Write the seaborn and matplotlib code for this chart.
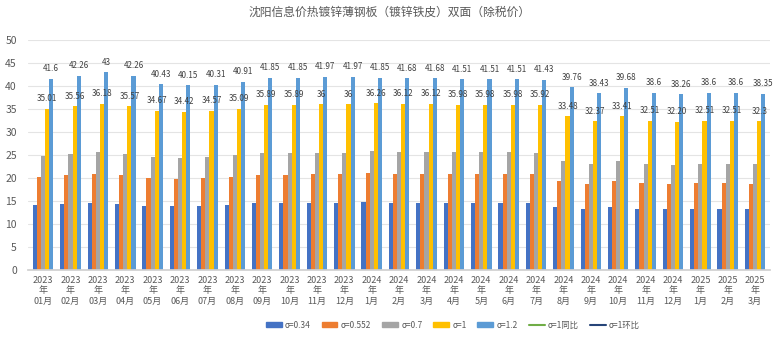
import matplotlib
matplotlib.use("Agg")
import matplotlib.pyplot as plt
from matplotlib.lines import Line2D
import seaborn as sns
import pandas as pd

months = ["2023\n年\n01月", "2023\n年\n02月", "2023\n年\n03月", "2023\n年\n04月", "2023\n年\n05月",
          "2023\n年\n06月", "2023\n年\n07月", "2023\n年\n08月", "2023\n年\n09月", "2023\n年\n10月",
          "2023\n年\n11月", "2023\n年\n12月", "2024\n年\n1月", "2024\n年\n2月", "2024\n年\n3月",
          "2024\n年\n4月", "2024\n年\n5月", "2024\n年\n6月", "2024\n年\n7月", "2024\n年\n8月",
          "2024\n年\n9月", "2024\n年\n10月", "2024\n年\n11月", "2024\n年\n12月", "2025\n年\n1月",
          "2025\n年\n2月", "2025\n年\n3月"]

s034 = [14.2, 14.4, 14.6, 14.4, 14.0, 13.9, 14.0, 14.2, 14.5, 14.5, 14.6, 14.6, 14.7, 14.6,
        14.6, 14.6, 14.6, 14.6, 14.5, 13.7, 13.3, 13.7, 13.3, 13.2, 13.3, 13.3, 13.2]
s0552 = [20.3, 20.6, 20.9, 20.6, 20.0, 19.8, 20.0, 20.3, 20.7, 20.7, 20.8, 20.8, 21.0, 20.9,
         20.9, 20.8, 20.8, 20.8, 20.8, 19.4, 18.8, 19.4, 18.9, 18.7, 18.9, 18.9, 18.8]
s07 = [24.8, 25.2, 25.6, 25.3, 24.5, 24.4, 24.5, 24.9, 25.4, 25.4, 25.5, 25.5, 25.8, 25.7,
       25.7, 25.6, 25.6, 25.6, 25.5, 23.7, 23.0, 23.7, 23.1, 22.9, 23.1, 23.1, 23.0]
s1 = [35.01, 35.56, 36.18, 35.57, 34.67, 34.42, 34.57, 35.09, 35.89, 35.89, 36, 36, 36.26, 36.12,
      36.12, 35.98, 35.98, 35.98, 35.92, 33.48, 32.37, 33.41, 32.51, 32.20, 32.51, 32.51, 32.3]
s1_labels = ["35.01", "35.56", "36.18", "35.57", "34.67", "34.42", "34.57", "35.09", "35.89",
             "35.89", "36", "36", "36.26", "36.12", "36.12", "35.98", "35.98", "35.98", "35.92",
             "33.48", "32.37", "33.41", "32.51", "32.20", "32.51", "32.51", "32.3"]
s12 = [41.6, 42.26, 43, 42.26, 40.43, 40.15, 40.31, 40.91, 41.85, 41.85, 41.97, 41.97, 41.85, 41.68,
       41.68, 41.51, 41.51, 41.51, 41.43, 39.76, 38.43, 39.68, 38.6, 38.26, 38.6, 38.6, 38.35]

series_names = ["σ=0.34", "σ=0.552", "σ=0.7", "σ=1", "σ=1.2"]
line_names = ["σ=1同比", "σ=1环比"]
title = "沈阳信息价热镀锌薄钢板（镀锌铁皮）双面（除税价）"

colors = ["#4472C4", "#ED7D31", "#A5A5A5", "#FFC000", "#5B9BD5"]
line_colors = ["#70AD47", "#264478"]

rows = []
for name, vals in zip(series_names, [s034, s0552, s07, s1, s12]):
    for m, v in zip(months, vals):
        rows.append({"month": m, "series": name, "value": v})
df = pd.DataFrame(rows)

sns.set_theme(style="white")
plt.rcParams['font.family'] = ['Noto Sans CJK SC', 'DejaVu Sans']

fig = plt.figure(figsize=(7.78, 3.40), dpi=100)
ax = fig.add_axes([0.036, 0.206, 0.954, 0.676])

sns.barplot(data=df, x="month", y="value", hue="series", palette=colors,
            order=months, hue_order=series_names, width=0.75, ax=ax,
            saturation=1, legend=False, linewidth=0)

ax.bar_label(ax.containers[3], labels=s1_labels, padding=4, fontsize=5.8, color="#404040")
ax.bar_label(ax.containers[4], labels=[f"{v:g}" for v in s12], padding=4, fontsize=5.8,
             color="#404040")

ax.set_ylim(0, 50)
ax.set_yticks(range(0, 51, 5))
ax.set_xlim(-0.55, len(months) - 0.45)
ax.grid(axis="y", color="#E4E4E4", linewidth=0.8)
ax.set_axisbelow(True)
for sp in ["top", "right", "left"]:
    ax.spines[sp].set_visible(False)
ax.spines["bottom"].set_color("#D0D0D0")
ax.set_xlabel("")
ax.set_ylabel("")
ax.tick_params(axis="y", labelsize=7.5, colors="#595959", length=0, pad=8)
ax.tick_params(axis="x", labelsize=6.5, colors="#595959", length=0, pad=4)
for t in ax.get_xticklabels():
    t.set_linespacing(1.25)

fig.text(0.5, 0.965, title, ha="center", va="center", fontsize=8.5, color="#595959")

handles = [plt.Rectangle((0, 0), 1, 1, color=c) for c in colors]
handles += [Line2D([0], [0], color=c, lw=1.5) for c in line_colors]
fig.legend(handles, series_names + line_names, loc="center", bbox_to_anchor=(0.582, 0.044),
           ncol=7, frameon=False, fontsize=6, handlelength=1.9, handleheight=0.45,
           columnspacing=1.3, handletextpad=0.4, labelcolor="#595959")

fig.savefig("out.png", dpi=100)
